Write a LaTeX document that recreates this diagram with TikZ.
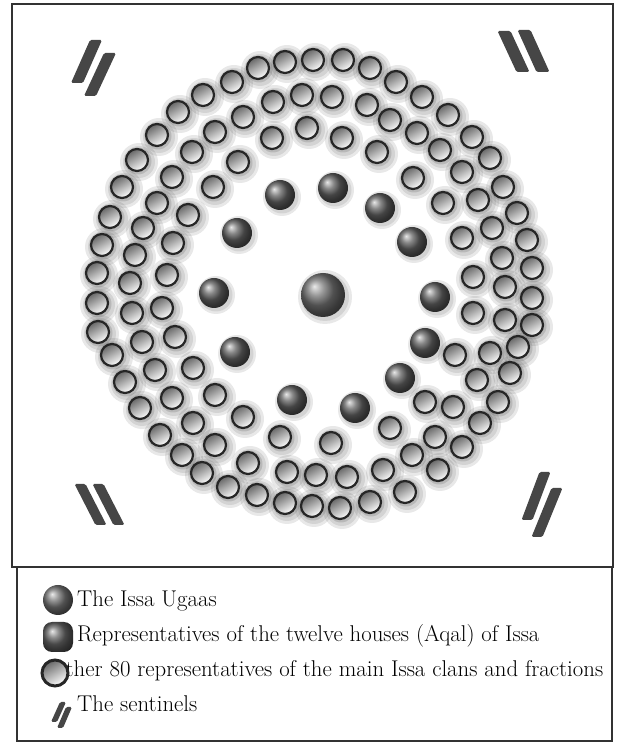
\documentclass[tikz,border=0pt]{standalone}
\usepackage{fontspec}
\usepackage{tikz}
\usetikzlibrary{calc}
\definecolor{deepgray}{RGB}{70,70,70}
\definecolor{framegray}{RGB}{50,50,50}
\tikzset{
  seat/.style={draw=black!85, line width=2.2pt, top color=black!60, bottom color=white, shading angle=30},
  aqal/.style={shading=ball, ball color=black!62},
  halo/.style={fill=black, opacity=0.09},
  sentinel/.style={fill=deepgray, rounded corners=1.5pt},
  legendtext/.style={anchor=base west, inner sep=0pt, font=\fontsize{22.8}{27}\selectfont}
}
% one slanted bar, from its top (#1,#2) to its bottom (#3,#4), picture pixels
\newcommand{\sentbar}[5]{%
  \fill[sentinel] ({#1-#5},{746-#2}) -- ({#1+#5},{746-#2}) -- ({#3+#5},{746-#4}) -- ({#3-#5},{746-#4}) -- cycle;}
\newcommand{\seatlist}{97/273,102/245,110/217,122/187,137/160,157/135,178/112,203/95,232/82,258/68,285/62,313/60,343/60,370/68,396/82,422/97,448/115,472/137,490/158,503/187,517/213,527/240,532/268,532/298,532/325,518/347,510/373,498/402,480/423,462/447,438/470,405/492,370/502,340/508,312/506,285/503,257/495,228/487,202/473,182/455,160/435,140/408,125/382,112/355,98/332,97/303,
130/283,135/255,143/228,157/203,172/177,192/152,215/132,243/117,273/102,302/95,332/97,367/105,390/120,417/133,440/150,462/172,478/200,492/228,502/258,505/287,505/320,490/353,477/380,453/407,435/437,412/455,383/470,347/477,316/475,287/472,248/463,215/445,193/423,172/398,155/370,142/342,132/313,
167/275,173/243,188/215,213/187,238/162,272/138,307/128,342/138,377/152,413/178,443/203,462/238,473/277,473/313,455/355,425/402,390/428,331/443,280/437,243/417,215/395,193/368,175/337,162/308}
\newcommand{\aqallist}{280/195,333/188,380/208,412/242,435/297,425/343,400/378,355/408,292/400,235/352,214/293,237/233}

\begin{document}
\begin{tikzpicture}[x=1pt, y=1pt]
  \useasboundingbox (0,0) rectangle (623,746);

  % frames
  \draw[framegray, line width=1.4pt] (12,742) rectangle (613,179);
  \draw[framegray, line width=1.4pt] (17,179) rectangle (612,5);

  % shadows
  \foreach \px/\py in \seatlist {
    \fill[halo] ({\px+2},{744-\py}) circle (19);
    \fill[halo] ({\px+2},{744-\py}) circle (16);
    \fill[halo, opacity=0.13] ({\px+1},{745-\py}) circle (13.5);
  }
  \foreach \px/\py in \aqallist {
    \fill[halo] ({\px+2},{744-\py}) circle (19);
    \fill[halo] ({\px+2},{744-\py}) circle (16.5);
  }
  \fill[halo] (325,449) circle (27);
  \fill[halo] (325,449) circle (24);

  % the 80 seats
  \foreach \px/\py in \seatlist
    \path[seat] (\px,{746-\py}) circle (11);

  % the twelve houses
  \foreach \px/\py in \aqallist
    \path[aqal] (\px,{746-\py}) circle (15);

  % the Ugaas
  \path[shading=ball, ball color=black!55] (323,451) circle (22);

  % sentinels
  \sentbar{96}{40}{77}{83}{6}
  \sentbar{110}{53}{90}{96}{6}
  \sentbar{504}{31}{523}{72}{6.5}
  \sentbar{524}{30}{543}{72}{6.5}
  \sentbar{80}{484}{101}{525}{5.5}
  \sentbar{98}{484}{119}{525}{5.5}
  \sentbar{545}{472}{527}{520}{5.5}
  \sentbar{557}{488}{537}{537}{5.5}

  % legend
  \node[legendtext] (ugaas) at (77,139) {The Issa Ugaas};
  \node[legendtext] (houses) at (77,104) {Representatives of the twelve houses (Aqal) of Issa};
  \node[legendtext] (clans) at (49,69) {Other 80 representatives of the main Issa clans and fractions};
  \node[legendtext] (guards) at (77,34) {The sentinels};

  \path[shading=ball, ball color=black!55] (58,146) circle (15);
  \path[shading=ball, ball color=black!60, rounded corners=9pt]
    (43,94) -- (43,124) -- (73,124) -- (73,94) -- cycle;
  \path[seat, line width=3pt] (55,73) circle (13);
  \sentbar{63}{702}{54}{722}{3}
  \sentbar{69}{707}{60}{728}{3}
\end{tikzpicture}
\end{document}
